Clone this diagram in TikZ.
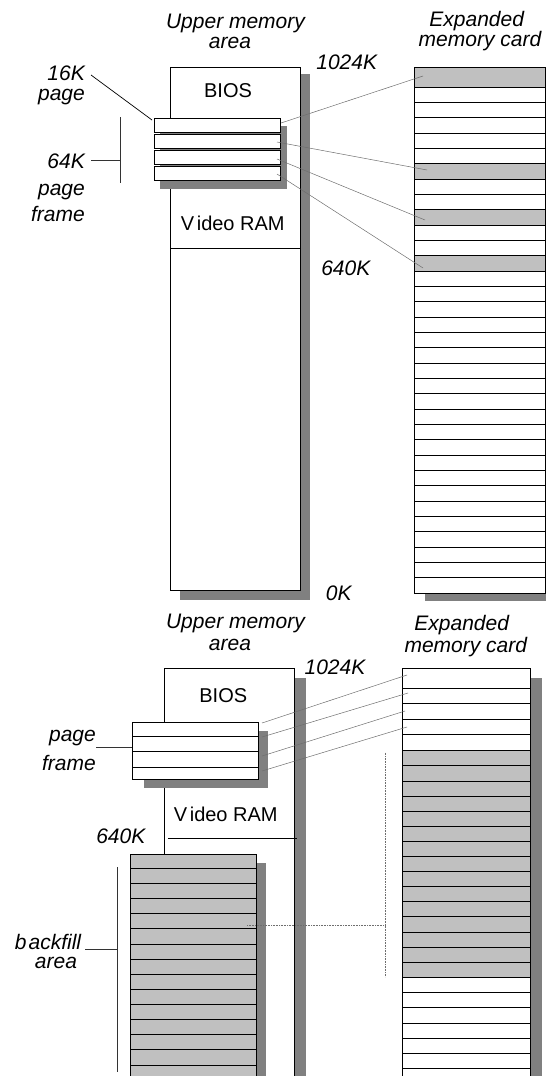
\documentclass[tikz,border=0pt]{standalone}
\usepackage{fontspec}
\setmainfont{Liberation Sans}
\definecolor{shadcol}{RGB}{128,128,128}
\definecolor{fillg}{RGB}{192,192,192}
\definecolor{conncol}{RGB}{110,110,110}
\begin{document}
\begin{tikzpicture}[x=1pt,y=-1pt,
  lbl/.style={font=\fontsize{21}{24}\selectfont\itshape, inner sep=0pt, anchor=base},
  lblr/.style={lbl, anchor=base east},
  txt/.style={font=\fontsize{20}{24}\selectfont, inner sep=0pt, anchor=base},
  shd/.style={fill=shadcol, draw=none},
  memBox/.style={draw=black, line width=0.8pt, fill=white},
  grayBox/.style={draw=black, line width=0.8pt, fill=fillg},
  rowl/.style={draw=black, line width=0.8pt},
  conn/.style={draw=conncol, line width=0.5pt},
  brk/.style={draw=black!80, line width=0.8pt},
  dots/.style={draw=conncol, line width=0.6pt, densely dotted}
]
\useasboundingbox (0,0) rectangle (546,1076);
\clip (0,0) rectangle (546,1076);

% ================= TOP SECTION =================
% upper memory area column
\fill[shd] (180,74) rectangle (310,600);
\draw[memBox] (170,67) rectangle (300,590);
\draw[rowl] (170,248) -- (301,248);
% page frame (4 pages)
\fill[shd] (160,126) rectangle (287,189);
\foreach \y in {118,134,150,166}{
  \draw[memBox] (154,\y) rectangle (280,\y+14);
}
% expanded memory card
\fill[shd] (425,75) rectangle (556,601);
\draw[memBox] (414,67) rectangle (545,593);
\fill[fillg] (414,67) rectangle (545,87);
\foreach \k in {5,8,11}{
  \fill[fillg] (414,87+\k*15.333) rectangle (545,87+\k*15.333+15.333);
}
\foreach \k in {0,...,32}{
  \draw[rowl] (414,87+\k*15.333) -- (545,87+\k*15.333);
}
\draw[line width=0.8pt] (414,67) rectangle (545,593);

% connectors top
\coordinate (s1) at (281,123); \coordinate (e1) at (423,76);
\coordinate (s2) at (277,142); \coordinate (e2) at (427,170);
\coordinate (s3) at (277,159); \coordinate (e3) at (425,220);
\coordinate (s4) at (277,174); \coordinate (e4) at (423,268);
\draw[conn] (s1) -- (e1);
\draw[conn] (s2) -- (e2);
\draw[conn] (s3) -- (e3);
\draw[conn] (s4) -- (e4);
% 16K pointer
\coordinate (a16) at (91,75); \coordinate (b16) at (152,120);
\draw[line width=0.7pt] (a16) -- (b16);
% 64K bracket
\coordinate (bt64) at (120.7,117); \coordinate (bb64) at (120.7,183);
\coordinate (bm64) at (120.7,160); \coordinate (bl64) at (91,160);
\draw[brk] (bt64) -- (bb64);
\draw[brk] (bl64) -- (bm64);

% labels top
\node[lbl] (um1) at (235.5,28.3) {Upper memory};
\node[lbl] (um2) at (230,48.3) {area};
\node[lbl] (ex1) at (476.7,26.7) {Expanded};
\node[lbl] (ex2) at (480,46) {memory card};
\node[lbl] (k1024) at (346.7,69.3) {1024K};
\node[lbl] (k640) at (345.8,275) {640K};
\node[lbl] (k0) at (338.8,600.7) {0K};
\node[lblr] (p16a) at (85,80) {16K};
\node[lblr] (p16b) at (85,100) {page};
\node[lblr] (f64a) at (85,168.3) {64K};
\node[lblr] (f64b) at (85,195) {page};
\node[lblr] (f64c) at (85,221.7) {frame};
\node[txt] (bios) at (228,97.3) {BIOS};
\node[txt] (vram) at (232.8,230) {V\kern2.5pt ideo RAM};

% ================= BOTTOM SECTION =================
% upper memory column
\fill[shd] (176,678) rectangle (306,1100);
\draw[memBox] (164,668) rectangle (294,1100);
\draw[rowl] (168,838) -- (297,838);
% page frame
\fill[shd] (144,731) rectangle (268,788);
\draw[memBox] (132,722) rectangle (258,779);
\foreach \y in {736,751.5,767}{
  \draw[rowl] (132,\y) -- (258,\y);
}
% backfill area
\fill[shd] (140,863) rectangle (266,1100);
\draw[grayBox] (130,854) rectangle (256,1100);
\foreach \k in {0,...,14}{
  \draw[rowl] (130,868.3+\k*15.13) -- (256,868.3+\k*15.13);
}
% expanded memory card
\fill[shd] (412,678) rectangle (542,1100);
\draw[memBox] (402,668) rectangle (530,1100);
\fill[fillg] (402,750.7) rectangle (530,977.3);
\foreach \y in {688,703.5,719,734.5}{
  \draw[rowl] (402,\y) -- (530,\y);
}
\foreach \k in {0,...,15}{
  \draw[rowl] (402,750.7+\k*15.107) -- (530,750.7+\k*15.107);
}
\foreach \k in {1,...,6}{
  \draw[rowl] (402,977.3+\k*15.2) -- (530,977.3+\k*15.2);
}
\draw[line width=0.8pt] (402,668) rectangle (530,1100);

% connectors bottom
\coordinate (t1) at (262,723); \coordinate (u1) at (407,675);
\coordinate (t2) at (262,737); \coordinate (u2) at (408,693);
\coordinate (t3) at (262,756); \coordinate (u3) at (405,711);
\coordinate (t4) at (262,771); \coordinate (u4) at (407,727);
\draw[conn] (t1) -- (u1);
\draw[conn] (t2) -- (u2);
\draw[conn] (t3) -- (u3);
\draw[conn] (t4) -- (u4);
% page frame pointer
\coordinate (pfl) at (96,747); \coordinate (pfr) at (132,747);
\draw[line width=0.7pt, draw=black!80] (pfl) -- (pfr);
% backfill bracket
\coordinate (bft) at (117.3,867); \coordinate (bfb) at (117.3,1072);
\coordinate (bfm) at (117.3,949); \coordinate (bfl) at (85,949);
\draw[brk] (bft) -- (bfb);
\draw[brk] (bfl) -- (bfm);
% dotted mapping
\coordinate (dvt) at (385.7,752.7); \coordinate (dvb) at (385.7,976.7);
\coordinate (dhl) at (247,925); \coordinate (dhr) at (385.7,925);
\draw[dots] (dvt) -- (dvb);
\draw[dots] (dhl) -- (dhr);

% labels bottom
\node[lbl] (um1b) at (235.5,628.3) {Upper memory};
\node[lbl] (um2b) at (230,650) {area};
\node[lbl] (ex1b) at (461.7,630) {Expanded};
\node[lbl] (ex2b) at (465.8,652.7) {memory card};
\node[lbl] (k1024b) at (335,674) {1024K};
\node[txt] (biosb) at (223.3,702.7) {BIOS};
\node[lblr] (pfa) at (96,741.7) {page};
\node[lblr] (pfb) at (96,770) {frame};
\node[txt] (vramb) at (225.8,821) {V\kern2.5pt ideo RAM};
\node[lbl] (k640b) at (120.8,843.3) {640K};
\node[lbl] (bf1) at (48,949.3) {b\kern2pt ackfill};
\node[lbl] (bf2) at (56,968.3) {area};
\end{tikzpicture}
\end{document}
